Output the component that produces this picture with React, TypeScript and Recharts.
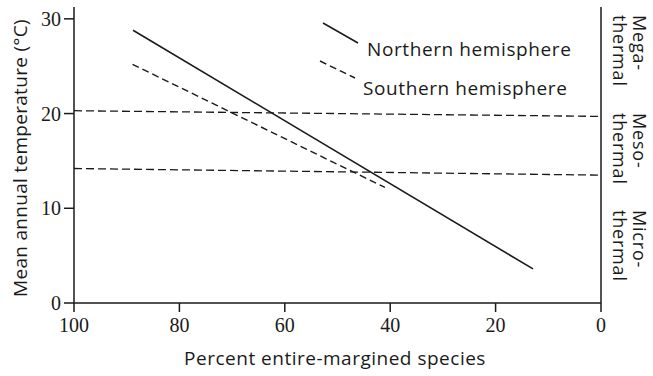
import React from 'react';
import { LineChart, Line, XAxis, YAxis, Legend } from 'recharts';

const xTicks = [100, 80, 60, 40, 20, 0];
const yTicks = [0, 10, 20, 30];
const seriesNames = ['Northern hemisphere', 'Southern hemisphere'];
const northernPercent = [88.8, 12.9];
const northernTemp = [28.8, 3.6];
const southernPercent = [88.9, 41.0];
const southernTemp = [25.2, 12.2];
const boundaryPercent = [100, 0];
const megaMesoTemp = [20.3, 19.7];
const mesoMicroTemp = [14.2, 13.5];
const zoneLabels = [
  ['Mega-', 'thermal'],
  ['Meso-', 'thermal'],
  ['Micro-', 'thermal'],
];
const zoneTops = [15, 113, 210];
const xTitle = 'Percent entire-margined species';
const yTitle = 'Mean annual temperature (°C)';

const toPts = (xs: number[], ys: number[]) => xs.map((x, i) => ({ x, t: ys[i] }));

const INK = '#1a1a1a';
const SANS = '"Open Sans", "Noto Sans", sans-serif';
const SERIF = '"Liberation Serif", "DejaVu Serif", serif';

const XTick = (props: any) => {
  const { x, y, payload } = props;
  return (
    <text x={x} y={y + 15} textAnchor="middle" fontSize={20} fontFamily={SERIF} fill={INK}>
      {payload.value}
    </text>
  );
};

const YTick = (props: any) => {
  const { x, y, payload } = props;
  return (
    <text x={x} y={y + 7} textAnchor="end" fontSize={20} fontFamily={SERIF} fill={INK}>
      {payload.value}
    </text>
  );
};

const LegendContent = (props: any) => {
  const items = (props.payload || []).filter((it: any) => seriesNames.includes(it.value));
  return (
    <svg width={290} height={100} style={{ overflow: 'visible' }}>
      {items.map((it: any, i: number) => {
        const dash = it.payload?.strokeDasharray;
        const y0 = i === 0 ? 13 : 51;
        return (
          <g key={i}>
            <line x1={13 - i * 3} y1={y0} x2={48 - i * 3} y2={y0 + 20 - i * 3}
              stroke={INK} strokeWidth={1.5} strokeDasharray={dash} />
            <text x={57 - i * 4} y={i === 0 ? 46 : 85} fontSize={19} fontFamily={SANS}
              fill={INK} letterSpacing={0.6}>{it.value}</text>
          </g>
        );
      })}
    </svg>
  );
};

export default function App() {
  return (
    <div style={{ position: 'absolute', left: 0, top: 0, width: 653, height: 376, background: '#fff' }}>
      <LineChart width={653} height={376} margin={{ top: 7, right: 0, bottom: 33, left: 0 }}>
        <XAxis type="number" dataKey="x" domain={[0, 100]} reversed ticks={xTicks}
          allowDataOverflow height={40} tickSize={9} tickMargin={5}
          axisLine={{ stroke: INK, strokeWidth: 1.5 }} tickLine={{ stroke: INK, strokeWidth: 1.5 }}
          tick={XTick} />
        <YAxis type="number" domain={[0, 31.25]} ticks={yTicks} allowDataOverflow width={74}
          tickSize={10} tickMargin={3}
          axisLine={{ stroke: INK, strokeWidth: 1.5 }} tickLine={{ stroke: INK, strokeWidth: 1.5 }}
          tick={YTick} />
        <YAxis yAxisId="r" orientation="right" type="number" domain={[0, 31.25]} ticks={[0]}
          width={52} tickSize={11} tick={false}
          axisLine={{ stroke: INK, strokeWidth: 1.5 }} tickLine={{ stroke: INK, strokeWidth: 1.5 }} />
        <Line data={toPts(northernPercent, northernTemp)} dataKey="t" name={seriesNames[0]} type="linear"
          stroke={INK} strokeWidth={1.6} dot={false} isAnimationActive={false} />
        <Line data={toPts(southernPercent, southernTemp)} dataKey="t" name={seriesNames[1]} type="linear"
          stroke={INK} strokeWidth={1.4} strokeDasharray="7 4" dot={false} isAnimationActive={false} />
        <Line data={toPts(boundaryPercent, megaMesoTemp)} dataKey="t" name="Mega/Meso boundary" type="linear"
          stroke={INK} strokeWidth={1.3} strokeDasharray="8 4" dot={false} isAnimationActive={false}
          legendType="none" />
        <Line data={toPts(boundaryPercent, mesoMicroTemp)} dataKey="t" name="Meso/Micro boundary" type="linear"
          stroke={INK} strokeWidth={1.3} strokeDasharray="8 4" dot={false} isAnimationActive={false}
          legendType="none" />
        <Legend layout="vertical" align="center" verticalAlign="middle" content={LegendContent}
          wrapperStyle={{ position: 'absolute', left: 310, top: 10, width: 290, height: 100 }} />
      </LineChart>
      <svg width={653} height={376} style={{ position: 'absolute', left: 0, top: 0, pointerEvents: 'none' }}>
        <text transform="translate(27,158) rotate(-90)" textAnchor="middle" fontSize={19}
          fontFamily={SANS} fill={INK} letterSpacing={0.3}>{yTitle}</text>
        <text x={335} y={365} textAnchor="middle" fontSize={19} fontFamily={SANS} fill={INK}
          letterSpacing={0.5}>{xTitle}</text>
        {zoneLabels.map((lines, i) => (
          <g key={i}>
            <text transform={`translate(633,${zoneTops[i]}) rotate(90)`} fontSize={18}
              fontFamily={SANS} fill={INK} letterSpacing={0.8}>{lines[0]}</text>
            <text transform={`translate(613,${zoneTops[i]}) rotate(90)`} fontSize={18}
              fontFamily={SANS} fill={INK} letterSpacing={0.8}>{lines[1]}</text>
          </g>
        ))}
      </svg>
    </div>
  );
}
